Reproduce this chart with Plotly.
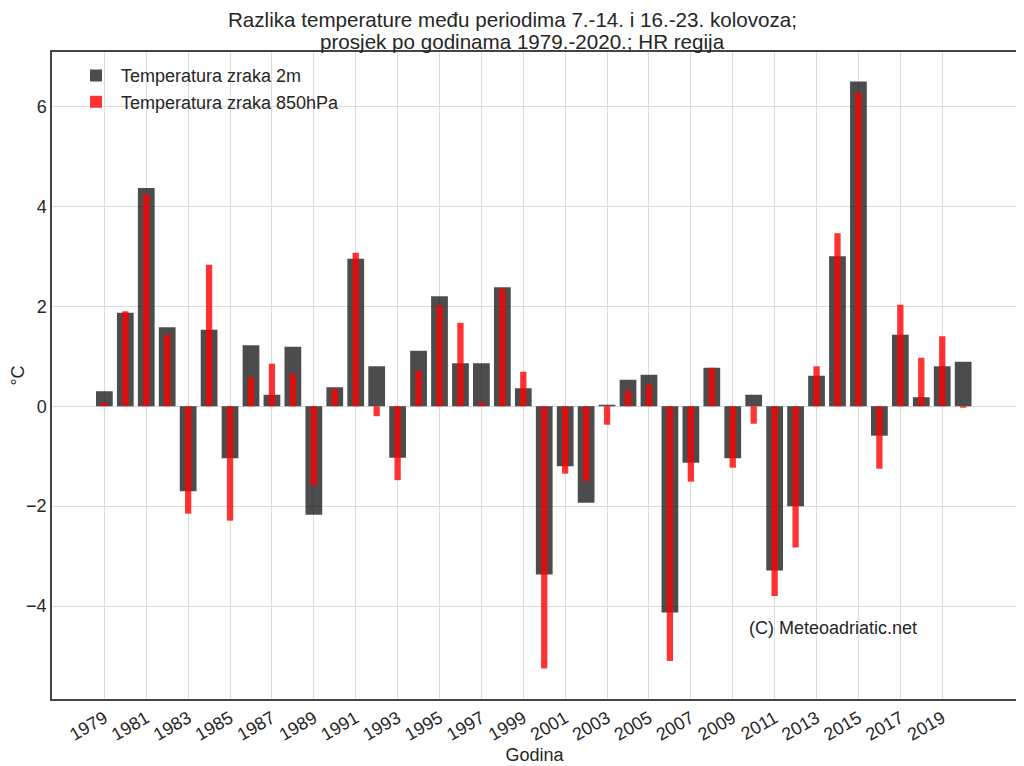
import plotly.graph_objects as go

years = list(range(1979, 2021))
t2m = [0.30, 1.87, 4.37, 1.58, -1.70, 1.53, -1.04, 1.22, 0.23, 1.19,
       -2.17, 0.38, 2.95, 0.80, -1.03, 1.11, 2.20, 0.86, 0.86, 2.38,
       0.36, -3.37, -1.20, -1.93, 0.03, 0.53, 0.63, -4.13, -1.13, 0.77,
       -1.04, 0.23, -3.29, -2.00, 0.61, 3.00, 6.50, -0.59, 1.43, 0.18,
       0.80, 0.89]
t850 = [0.07, 1.90, 4.25, 1.43, -2.15, 2.83, -2.29, 0.58, 0.85, 0.65,
        -1.59, 0.35, 3.07, -0.20, -1.48, 0.71, 2.02, 1.67, 0.07, 2.35,
        0.69, -5.25, -1.35, -1.50, -0.37, 0.31, 0.43, -5.10, -1.51, 0.77,
        -1.23, -0.35, -3.80, -2.83, 0.80, 3.46, 6.27, -1.25, 2.03, 0.97,
        1.40, -0.03]
tick_years = list(range(1979, 2020, 2))
tick_labels = [str(y) for y in tick_years]
y_ticks = [-4, -2, 0, 2, 4, 6]
title_lines = ["Razlika temperature među periodima 7.-14. i 16.-23. kolovoza;",
               "prosjek po godinama 1979.-2020.; HR regija"]

font = "Liberation Sans, Arial, sans-serif"
txt = "#262626"

fig = go.Figure()
fig.add_trace(go.Bar(x=years, y=t2m, width=0.8, name="Temperatura zraka 2m",
                     marker=dict(color="rgba(0,0,0,0.7)", line=dict(width=0))))
fig.add_trace(go.Bar(x=years, y=t850, width=0.3, name="Temperatura zraka 850hPa",
                     marker=dict(color="rgba(255,0,0,0.8)", line=dict(width=0))))

fig.add_annotation(x=2009.7, y=-4.43, xref="x", yref="y", xanchor="left",
                   text="(C) Meteoadriatic.net", showarrow=False,
                   font=dict(size=18, color=txt, family=font))

# two-line title, each line placed separately for tight line spacing
for txt_line, ypos, xpos in zip(title_lines, [1.0510, 1.0170], [0.4777, 0.488]):
    fig.add_annotation(x=xpos, y=ypos, xref="paper", yref="paper",
                       xanchor="center", yanchor="middle", text=txt_line,
                       showarrow=False, borderpad=0,
                       font=dict(size=20.6, color=txt, family=font))

# page body has an 8px margin, so the figure is 8px smaller than the window
fig.update_layout(
    width=1016, height=758,
    barmode="overlay",
    paper_bgcolor="white", plot_bgcolor="white",
    font=dict(family=font, color=txt, size=18),
    margin=dict(l=44, r=7, t=44, b=67, autoexpand=False),
    legend=dict(x=0.0197, y=0.992, xanchor="left", yanchor="top",
                bgcolor="rgba(0,0,0,0)", font=dict(size=18, color=txt),
                itemwidth=40),
    xaxis=dict(range=[1976.5, 2022.57], tickmode="array", tickvals=tick_years,
               ticktext=tick_labels, tickangle=-30, showgrid=True,
               gridcolor="#dcdcdc", gridwidth=1, showline=True, linecolor="#444",
               linewidth=1.5, mirror=True, ticks="", zeroline=False,
               automargin=False,
               tickfont=dict(size=18, color=txt),
               title=dict(text="Godina", font=dict(size=18, color=txt), standoff=2)),
    yaxis=dict(range=[-5.86, 7.09], tickmode="array", tickvals=y_ticks,
               showgrid=True, gridcolor="#dcdcdc", gridwidth=1, showline=True,
               linecolor="#444", linewidth=1.5, mirror=True, ticks="",
               zeroline=False, automargin=False, tickfont=dict(size=18, color=txt),
               title=dict(text="°C", font=dict(size=18, color=txt), standoff=6)),
)

fig.write_html("out.html")
